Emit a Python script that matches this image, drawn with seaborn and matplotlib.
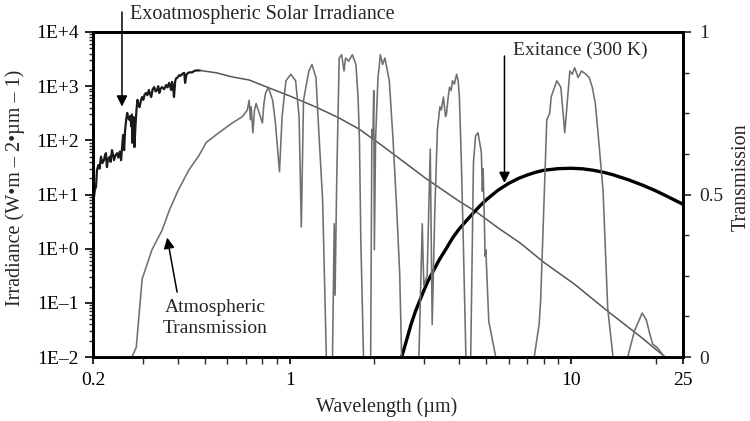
import matplotlib
matplotlib.use("Agg")
import matplotlib.pyplot as plt
import matplotlib.ticker as mticker
import numpy as np
import pandas as pd
import seaborn as sns

# Exoatmospheric solar irradiance, UV / blue part (W m-2 um-1)
solar_uv_wl = [0.200, 0.2016, 0.203, 0.205, 0.2066, 0.209, 0.211, 0.2135, 0.216, 0.2187,
               0.2205, 0.2223, 0.2242, 0.226, 0.2297, 0.231, 0.2336, 0.2355, 0.2375, 0.240,
               0.2436, 0.246, 0.249, 0.2517, 0.2538, 0.2559, 0.2580, 0.260, 0.2624, 0.2646,
               0.2665, 0.2691, 0.271, 0.2737, 0.2750, 0.2760, 0.2785, 0.2807, 0.2830, 0.2854,
               0.2878, 0.290, 0.2927, 0.2955, 0.2988, 0.302, 0.305, 0.309, 0.312, 0.316,
               0.319, 0.322, 0.326, 0.330, 0.334, 0.338, 0.341, 0.344, 0.348, 0.352,
               0.358, 0.364, 0.368, 0.373, 0.376, 0.379, 0.382, 0.385, 0.388, 0.392,
               0.395, 0.400, 0.405, 0.410, 0.416, 0.422, 0.425, 0.429, 0.435, 0.441,
               0.450, 0.458, 0.465, 0.480]
solar_uv_irr = [8, 9, 12, 14, 28, 35, 30, 50, 38, 43,
                52, 58, 32, 45, 50, 40, 66, 55, 43, 52,
                58, 48, 62, 43, 75, 126, 66, 150, 240, 320,
                260, 240, 280, 180, 300, 90, 270, 75, 180, 360,
                560, 450, 410, 520, 630, 560, 700, 750, 680, 850,
                720, 630, 880, 960, 800, 850, 1000, 750, 900, 960,
                880, 1050, 950, 1150, 1000, 850, 1200, 1000, 630, 1250,
                1400, 1450, 1600, 1550, 1700, 1750, 1150, 1600, 1750, 1800,
                1800, 1900, 1950, 1950]

# Exoatmospheric solar irradiance, smooth visible / IR part
solar_wl = [0.480, 0.55, 0.625, 0.718, 0.846, 1.0, 1.24, 1.5, 1.77, 2.13,
            3.06, 3.99, 4.6, 5.58, 6.56, 8.04, 10.3, 13.5, 17.6, 21.6]
solar_irr = [1950, 1760, 1480, 1300, 925, 660, 412, 258, 160, 80,
             19.5, 7.6, 4.8, 2.3, 1.3, 0.55, 0.22, 0.07, 0.024, 0.01]

# Blackbody exitance at 300 K (W m-2 um-1)
exit_wl = [2.5, 2.6, 2.7, 2.8, 2.9, 3.0, 3.1, 3.25, 3.4, 3.6, 3.8, 4.0, 4.25, 4.5,
           4.75, 5.0, 5.5, 6.0, 6.5, 7.0, 7.5, 8.0, 9.0, 10.0, 11.0, 12.0, 13.0,
           14.0, 16.0, 18.0, 20.0, 22.0, 25.0]
exit_val = [0.01, 0.02, 0.04, 0.07, 0.11, 0.17, 0.25, 0.40, 0.62, 1.0, 1.6, 2.3, 3.3, 4.6,
            6.2, 8.0, 12.0, 16.0, 19.8, 23.0, 25.8, 28.0, 30.0, 30.5, 29.8, 28.0, 25.8,
            23.4, 18.7, 14.8, 11.7, 9.2, 6.6]

# Atmospheric transmission (0-1)
trans_wl = [0.20, 0.275, 0.285, 0.299, 0.324, 0.352, 0.373, 0.40, 0.438, 0.476,
            0.505, 0.56, 0.625, 0.68, 0.707, 0.718, 0.725, 0.73, 0.74, 0.75,
            0.76, 0.78, 0.80, 0.81, 0.82, 0.84, 0.87, 0.89, 0.92, 0.94,
            0.97, 1.01, 1.05, 1.08, 1.10, 1.12, 1.17, 1.20, 1.24, 1.27,
            1.31, 1.35, 1.42, 1.44, 1.45, 1.47, 1.50, 1.53, 1.56, 1.58,
            1.62, 1.67, 1.72, 1.75, 1.77, 1.79, 1.83, 1.94, 1.96, 1.975,
            1.99, 2.00, 2.02, 2.06, 2.08, 2.10, 2.14, 2.18, 2.26, 2.33,
            2.40, 2.46, 2.50, 2.88, 2.96, 2.98, 3.00, 3.08, 3.16, 3.21,
            3.28, 3.35, 3.42, 3.46, 3.52, 3.58, 3.61, 3.66, 3.70, 3.75,
            3.79, 3.85, 3.92, 3.97, 4.01, 4.07, 4.13, 4.18, 4.23, 4.40,
            4.50, 4.58, 4.67, 4.80, 4.84, 4.87, 4.92, 4.95, 4.98, 5.10,
            5.40, 7.40, 7.70, 7.80, 8.10, 8.20, 8.40, 8.50, 8.90, 9.20,
            9.50, 9.90, 10.1, 10.3, 10.6, 10.9, 11.3, 11.6, 11.9, 12.2,
            12.5, 13.0, 13.5, 14.1, 15.9, 16.8, 17.9, 18.5, 19.0, 19.5,
            20.2, 21.5, 25.0]
trans_val = [0, 0, 0.03, 0.24, 0.33, 0.39, 0.45, 0.51, 0.575, 0.62,
             0.66, 0.69, 0.72, 0.74, 0.76, 0.79, 0.73, 0.77, 0.69, 0.76,
             0.78, 0.75, 0.72, 0.78, 0.81, 0.83, 0.79, 0.72, 0.57, 0.74,
             0.85, 0.87, 0.85, 0.74, 0.40, 0.79, 0.88, 0.90, 0.86, 0.69,
             0.48, 0, 0, 0.41, 0.19, 0.55, 0.92, 0.93, 0.88, 0.92,
             0.91, 0.93, 0.90, 0.80, 0.67, 0.36, 0, 0, 0.70, 0.67,
             0.82, 0.33, 0.67, 0.86, 0.89, 0.93, 0.90, 0.92, 0.85, 0.67,
             0.46, 0.26, 0, 0, 0.41, 0.30, 0.22, 0.25, 0.64, 0.10,
             0.45, 0.70, 0.77, 0.76, 0.80, 0.74, 0.75, 0.80, 0.83, 0.82,
             0.85, 0.84, 0.87, 0.85, 0.80, 0.62, 0.40, 0.20, 0, 0,
             0.60, 0.68, 0.69, 0.63, 0.51, 0.58, 0.42, 0.31, 0.33, 0.11,
             0, 0, 0.10, 0.175, 0.60, 0.73, 0.75, 0.80, 0.85, 0.83,
             0.69, 0.88, 0.87, 0.89, 0.86, 0.88, 0.87, 0.86, 0.83, 0.78,
             0.68, 0.51, 0.15, 0, 0, 0.08, 0.135, 0.115, 0.075, 0.04,
             0.03, 0, 0]

x_ticks = [0.2, 1, 10, 25]
x_tick_labels = ["0.2", "1", "10", "25"]
y_ticks = [1e-2, 1e-1, 1e0, 1e1, 1e2, 1e3, 1e4]
y_tick_labels = ["1E\u20132", "1E\u20131", "1E+0", "1E+1", "1E+2", "1E+3", "1E+4"]
t_ticks = [0, 0.5, 1]
t_tick_labels = ["0", "0.5", "1"]

sns.set_style("ticks")
plt.rcParams["font.family"] = ["Liberation Serif", "DejaVu Serif"]
plt.rcParams["axes.linewidth"] = 2.0
plt.rcParams["xtick.major.width"] = 1.2
plt.rcParams["ytick.major.width"] = 1.2
plt.rcParams["xtick.minor.width"] = 1.0
plt.rcParams["ytick.minor.width"] = 1.0

W, H = 750, 421
fig = plt.figure(figsize=(W / 100, H / 100), dpi=100)
fig.patch.set_facecolor("white")
L, R, T, B = 93, 683, 32, 357
ax = fig.add_axes([L / W, 1 - B / H, (R - L) / W, (B - T) / H])
ax.set_xscale("log")
ax.set_yscale("log")

solar_uv = pd.DataFrame({"wl": solar_uv_wl, "irr": solar_uv_irr})
solar = pd.DataFrame({"wl": solar_wl, "irr": solar_irr})
exitance = pd.DataFrame({"wl": exit_wl, "irr": exit_val})
trans = pd.DataFrame({"wl": trans_wl, "t": trans_val})

sns.lineplot(data=solar_uv, x="wl", y="irr", ax=ax, color="#1a1a1a", lw=1.6,
             estimator=None, sort=False)
sns.lineplot(data=solar, x="wl", y="irr", ax=ax, color="#555555", lw=1.1,
             estimator=None, sort=False)
sns.lineplot(data=exitance, x="wl", y="irr", ax=ax, color="black", lw=2.4,
             estimator=None, sort=False)

ax.set_xlim(0.2, 25)
ax.set_ylim(1e-2, 1e4)

ax2 = ax.twinx()
sns.lineplot(data=trans, x="wl", y="t", ax=ax2, color="#6f6f6f", lw=1.15,
             estimator=None, sort=False)
ax2.set_ylim(0, 1)
ax2.set_xlim(0.2, 25)

# Tick layout
ax.xaxis.set_major_locator(mticker.FixedLocator(x_ticks))
ax.xaxis.set_major_formatter(mticker.FixedFormatter(x_tick_labels))
ax.xaxis.set_minor_locator(mticker.FixedLocator(
    [0.3, 0.4, 0.5, 0.6, 0.7, 0.8, 0.9, 2, 3, 4, 5, 6, 7, 8, 9, 20]))
ax.xaxis.set_minor_formatter(mticker.NullFormatter())
ax.yaxis.set_major_locator(mticker.FixedLocator(y_ticks))
ax.yaxis.set_major_formatter(mticker.FixedFormatter(y_tick_labels))
ax.yaxis.set_minor_locator(mticker.LogLocator(base=10, subs=np.arange(2, 10)))
ax.yaxis.set_minor_formatter(mticker.NullFormatter())
ax2.yaxis.set_major_locator(mticker.FixedLocator(t_ticks))
ax2.yaxis.set_major_formatter(mticker.FixedFormatter(t_tick_labels))
ax2.yaxis.set_minor_locator(mticker.MultipleLocator(0.125))

ax.tick_params(axis="both", which="major", direction="out", length=6, labelsize=14,
               colors="black", pad=4)
ax.tick_params(axis="both", which="minor", direction="out", length=3)
ax.tick_params(axis="x", which="major", length=5, pad=6)
ax.tick_params(axis="x", which="minor", length=5)
ax2.tick_params(axis="y", which="major", direction="out", length=6, labelsize=14, pad=6)
ax2.tick_params(axis="y", which="minor", direction="out", length=4)

for a in (ax, ax2):
    for s in a.spines.values():
        s.set_linewidth(2.0)
        s.set_color("black")
        s.set_visible(True)

ax.set_xlabel("")
ax.set_ylabel("")
ax2.set_ylabel("")
fig.text(387 / W, 1 - 407 / H, "Wavelength (\u00b5m)", ha="center", va="center", fontsize=14.5)
fig.text(15 / W, 1 - 188 / H, "Irradiance (W\u2022m \u2013 2\u2022\u00b5m \u2013 1)",
         rotation=90, ha="center", va="center", fontsize=14.5)
fig.text(741 / W, 1 - 177 / H, "Transmission", rotation=90, ha="center", va="center",
         fontsize=14.5)

# Annotations
arrow = dict(arrowstyle="-|>", color="black", lw=1.1, mutation_scale=16,
             shrinkA=0, shrinkB=0)
ax.annotate("", xy=(0.2535, 420), xytext=(0.2535, 10 ** 4.37),
            arrowprops=arrow, annotation_clip=False)
fig.text(130 / W, 1 - 14 / H, "Exoatmospheric Solar Irradiance", ha="left", va="center",
         fontsize=14.5)
ax.annotate("", xy=(5.8, 16.3), xytext=(5.8, 3600), arrowprops=arrow)
fig.text(513 / W, 1 - 50 / H, "Exitance (300 K)", ha="left", va="center", fontsize=14)
ax.annotate("", xy=(0.367, 1.6), xytext=(0.398, 0.158), arrowprops=arrow)
fig.text(215 / W, 1 - 318 / H, "Atmospheric\nTransmission", ha="center", va="center",
         multialignment="center", fontsize=14, linespacing=1.25)

fig.savefig("out.png", dpi=100, facecolor="white")
